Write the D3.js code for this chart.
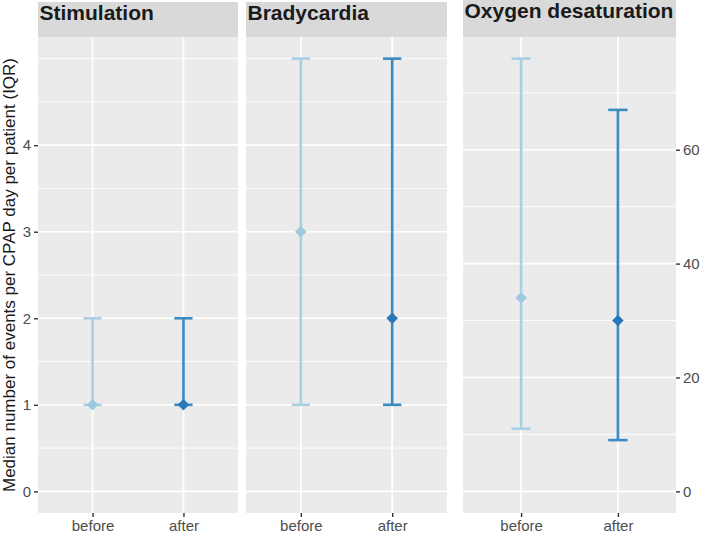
<!DOCTYPE html>
<html><head><meta charset="utf-8">
<script src="https://cdn.jsdelivr.net/npm/d3@7"></script>
<style>body{margin:0;background:#fff}svg{display:block}</style>
</head><body>
<svg id="c" width="702" height="535"></svg>
<script>
const facets = ["Stimulation", "Bradycardia", "Oxygen desaturation"];
const groups = ["before", "after"];
const medians = [[1, 1], [3, 2], [34, 30]];
const lowerQ = [[1, 1], [1, 1], [11, 9]];
const upperQ = [[2, 2], [5, 5], [76, 67]];
const yTicksLeft = [0, 1, 2, 3, 4];
const yMinorLeft = [0.5, 1.5, 2.5, 3.5, 4.5, 5];
const yTicksRight = [0, 20, 40, 60];
const yMinorRight = [10, 30, 50, 70];
const yTitle = "Median number of events per CPAP day per patient (IQR)";

(function () {
const lineCol = {before: "#a8cfe6", after: "#3d8bc5"};
const ptCol = {before: "#9ecae1", after: "#2a78b8"};
const font = "'Liberation Sans', Arial, Helvetica, sans-serif";

const svg = d3.select("#c");
const pTop = 37, pBottom = 513;
const panels = [
  {x0: 38, x1: 238, stripTop: 2, base: 20},
  {x0: 246, x1: 447, stripTop: 2, base: 20},
  {x0: 463, x1: 676, stripTop: 0, base: 18}
];
const yLeft = d3.scaleLinear().domain([-0.25, 5.25]).range([pBottom, pTop]);
const yRight = d3.scaleLinear().domain([-3.8, 79.8]).range([pBottom, pTop]);

panels.forEach((p, i) => {
  const y = i < 2 ? yLeft : yRight;
  const majors = i < 2 ? yTicksLeft : yTicksRight;
  const minors = i < 2 ? yMinorLeft : yMinorRight;
  const x = d3.scalePoint().domain(groups).range([p.x0, p.x1]).padding(0.6);
  const g = svg.append("g");
  g.append("rect").attr("x", p.x0).attr("y", p.stripTop).attr("width", p.x1 - p.x0)
    .attr("height", pTop - p.stripTop).attr("fill", "#d9d9d9");
  g.append("text").attr("x", p.x0 + 1.5).attr("y", p.base).text(facets[i])
    .attr("font-family", font).attr("font-weight", "bold").attr("font-size", 21).attr("fill", "#1a1a1a");
  g.append("rect").attr("x", p.x0).attr("y", pTop).attr("width", p.x1 - p.x0)
    .attr("height", pBottom - pTop).attr("fill", "#ebebeb");
  minors.forEach(v => g.append("line").attr("x1", p.x0).attr("x2", p.x1)
    .attr("y1", y(v)).attr("y2", y(v)).attr("stroke", "#fff").attr("stroke-width", 0.9));
  majors.forEach(v => g.append("line").attr("x1", p.x0).attr("x2", p.x1)
    .attr("y1", y(v)).attr("y2", y(v)).attr("stroke", "#fff").attr("stroke-width", 1.7));
  groups.forEach(gr => g.append("line").attr("x1", x(gr)).attr("x2", x(gr))
    .attr("y1", pTop).attr("y2", pBottom).attr("stroke", "#fff").attr("stroke-width", 1.7));
  const xa = svg.append("g").attr("transform", `translate(0,${pBottom})`)
    .call(d3.axisBottom(x).tickSize(4).tickPadding(3));
  xa.select(".domain").remove();
  xa.selectAll(".tick line").attr("stroke", "#333").attr("stroke-width", 1.4);
  xa.selectAll("text").attr("font-family", font).attr("font-size", 15).attr("fill", "#4d4d4d");
  if (i === 0 || i === 2) {
    const ax = i === 0 ? d3.axisLeft(y) : d3.axisRight(y);
    const ya = svg.append("g").attr("transform", `translate(${i === 0 ? p.x0 : p.x1},0)`)
      .call(ax.tickValues(majors).tickSize(4).tickPadding(3).tickFormat(d3.format("d")));
    ya.select(".domain").remove();
    ya.selectAll(".tick line").attr("stroke", "#333").attr("stroke-width", 1.4);
    ya.selectAll("text").attr("font-family", font).attr("font-size", 15).attr("fill", "#4d4d4d");
  }
  groups.forEach((gr, j) => {
    const cx = x(gr), hw = x.step() * 0.1;
    const lo = y(lowerQ[i][j]), hi = y(upperQ[i][j]), md = y(medians[i][j]);
    const eb = svg.append("g").attr("stroke", lineCol[gr]).attr("stroke-width", 2.6);
    eb.append("line").attr("x1", cx).attr("x2", cx).attr("y1", lo).attr("y2", hi);
    eb.append("line").attr("x1", cx - hw).attr("x2", cx + hw).attr("y1", lo).attr("y2", lo);
    eb.append("line").attr("x1", cx - hw).attr("x2", cx + hw).attr("y1", hi).attr("y2", hi);
    const s = 5.8;
    svg.append("path").attr("d", `M${cx},${md - s}L${cx + s},${md}L${cx},${md + s}L${cx - s},${md}Z`)
      .attr("fill", ptCol[gr]);
  });
});

svg.append("text").attr("transform", `translate(15,275) rotate(-90)`)
  .attr("text-anchor", "middle").attr("font-family", font).attr("font-size", 17)
  .attr("fill", "#1a1a1a").text(yTitle);
})();
</script>
</body></html>
